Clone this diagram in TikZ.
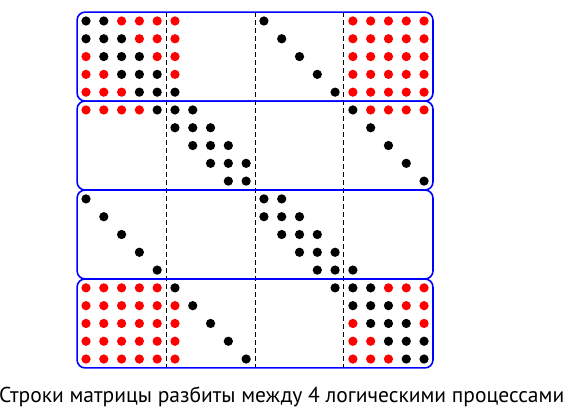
\documentclass[tikz,border=0pt]{standalone}
\usepackage{fontspec}
\setsansfont{PT Sans}
\usepackage{tikz}
\usepackage{xcolor}
\usetikzlibrary{
    positioning,
    calc
}
\definecolor{procbox}{HTML}{0000FF}
\definecolor{halo}{HTML}{FF0000}
\definecolor{dark}{HTML}{000000}
\tikzset{
    % Matrix entry (one dot)
    entry/.style={
        fill=#1
    },
    % Rows owned by one process
    procblock/.style={
        draw=procbox,
        line width=0.8pt,
        rounded corners=4pt
    },
    % Column block separator
    colsep/.style={
        draw=dark,
        line width=0.5pt,
        dash pattern=on 2.5pt off 1.5pt
    },
    % Caption style
    caption text/.style={
        font=\fontsize{10.75}{12}\selectfont\sffamily,
        text=dark,
        anchor=base
    }
}

\begin{document}
\begin{tikzpicture}[x=8.895pt, y=8.895pt]

        % Frame (reference margins)
        \useasboundingbox (-4.834,1.180) rectangle (26.81,-21.81);

        % Column block separators
        \foreach \c in {4.5,9.5,14.5}
            \draw[colsep] (\c,0.5) -- (\c,-19.5);

        % Matrix entries
        \foreach \i in {0,...,19}{
            \foreach \j in {0,...,19}{
                \pgfmathtruncatemacro\dist{abs(\i-\j)}
                \pgfmathtruncatemacro\split{(\i<10)!=(\j<10)}
                \pgfmathtruncatemacro\inhalo{((\i<6)||(\i>14))&&((\j<6)||(\j>14))}
                \ifnum\dist<2
                    \ifnum\split=0
                        \path[entry=black] (\j,-\i) circle[radius=0.26];
                    \fi
                \else\ifnum\dist=10
                    \path[entry=black] (\j,-\i) circle[radius=0.26];
                \else\ifnum\inhalo=1
                    \path[entry=halo] (\j,-\i) circle[radius=0.26];
                \fi\fi\fi
            }
        }

        % Process row blocks
        \foreach \k in {0,...,3}
            \draw[procblock] (-0.5,{-5*\k+0.5}) rectangle (19.5,{-5*\k-4.5});

        % Caption
        \node[caption text] (caption) at (11.0,-21.42) {Строки матрицы разбиты между 4 логическими процессами};

    \end{tikzpicture}
\end{document}
